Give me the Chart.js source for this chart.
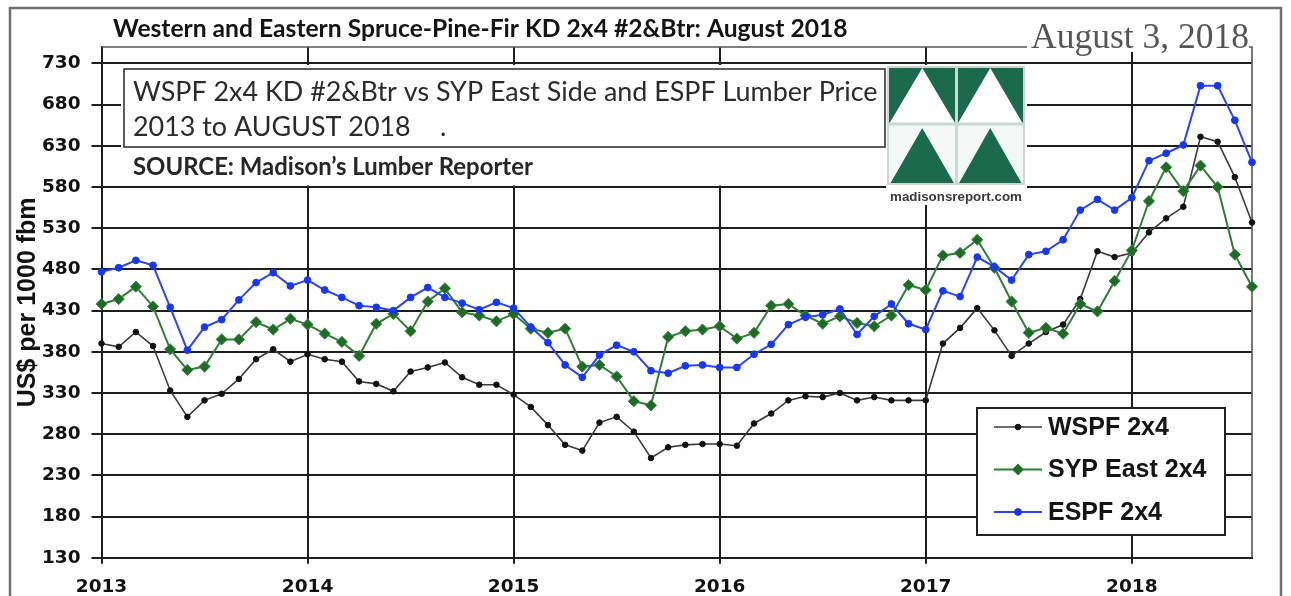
<!DOCTYPE html>
<html>
<head>
<meta charset="utf-8">
<script src="https://cdn.jsdelivr.net/npm/chart.js@4.4.1/dist/chart.umd.min.js"></script>
<style>
  html, body { margin: 0; padding: 0; background: #fff; }
  #wrap { position: relative; width: 1291px; height: 596px; overflow: hidden; }
  canvas { display: block; }
</style>
</head>
<body>
<div id="wrap"><canvas id="c" width="1291" height="596"></canvas></div>
<script>
// ---------------- DATA ----------------
const chartTitle = 'Western and Eastern Spruce-Pine-Fir KD 2x4 #2&Btr: August 2018';
const dateStamp = 'August 3, 2018';
const boxLine1 = 'WSPF 2x4 KD #2&Btr vs SYP East Side and ESPF Lumber Price';
const boxLine2 = '2013 to AUGUST 2018';
const boxLine2Dot = '.';
const sourceText = 'SOURCE: Madison’s Lumber Reporter';
const logoText = 'madisonsreport.com';
const yAxisTitle = 'US$ per 1000 fbm';

const years = [2013, 2014, 2015, 2016, 2017, 2018];
const lastYearMonths = 8; // Jan..Aug 2018
const months = [];
years.forEach((y, yi) => {
  const n = yi === years.length - 1 ? lastYearMonths : 12;
  for (let m = 1; m <= n; m++) months.push(y + '-' + String(m).padStart(2, '0'));
});

const yTicks = [130, 180, 230, 280, 330, 380, 430, 480, 530, 580, 630, 680, 730];
const yMin = 130;
const yMax = 750;

const seriesNames = ['WSPF 2x4', 'SYP East 2x4', 'ESPF 2x4'];

const wspf = [
  390, 386, 404, 387, 333, 301, 321, 329, 347, 371, 383, 368,
  377, 371, 368, 344, 341, 332, 356, 361, 367, 349, 340, 340,
  328, 313, 291, 267, 260, 294, 301, 283, 251, 264, 267, 268,
  268, 266, 293, 305, 321, 326, 325, 330, 321, 325, 321, 321,
  321, 390, 409, 433, 406, 375, 390, 404, 413, 444, 502, 495,
  500, 525, 542, 556, 641, 635, 592, 537
];
const sypEast = [
  438, 444, 459, 435, 383, 358, 362, 395, 395, 416, 407, 420,
  413, 402, 392, 375, 414, 426, 405, 441, 457, 428, 424, 417,
  426, 408, 403, 408, 362, 364, 350, 320, 315, 398, 405, 407,
  411, 396, 403, 436, 438, 424, 414, 423, 415, 411, 424, 461,
  455, 497, 500, 516, 482, 441, 403, 409, 402, 438, 429, 466,
  503, 563, 604, 575, 606, 580, 498, 459
];
const espf = [
  477, 482, 491, 485, 434, 382, 410, 419, 443, 464, 476, 460,
  467, 455, 446, 436, 434, 430, 446, 458, 446, 439, 431, 440,
  433, 410, 391, 364, 349, 376, 388, 380, 357, 354, 363, 364,
  361, 361, 377, 389, 413, 422, 425, 432, 401, 423, 438, 414,
  407, 454, 447, 495, 483, 467, 498, 502, 516, 552, 565, 552,
  567, 612, 621, 631, 703, 703, 661, 610
];

// ---------------- STYLE ----------------
const GRID = '#1e1e1e';
const styles = [
  { line: '#3a3a3a', fill: '#111111', stroke: '#111111', style: 'circle', r: 2.8, lw: 1.6, order: 2 },
  { line: '#2f7d36', fill: '#1f6a26', stroke: '#3a8a44', style: 'rectRot', r: 5.6, lw: 2, order: 1 },
  { line: '#2b45f2', fill: '#1736f5', stroke: '#1736f5', style: 'circle', r: 3.4, lw: 2, order: 0 }
];
const seriesData = [wspf, sypEast, espf];

function fitSize(ctx, text, weight, family, targetW) {
  ctx.font = weight + ' 100px ' + family;
  return 100 * targetW / ctx.measureText(text).width;
}

function drawMarker(ctx, st, x, y) {
  ctx.beginPath();
  if (st.style === 'rectRot') {
    ctx.moveTo(x - st.r, y); ctx.lineTo(x, y - st.r); ctx.lineTo(x + st.r, y); ctx.lineTo(x, y + st.r); ctx.closePath();
  } else {
    ctx.arc(x, y, st.r, 0, Math.PI * 2);
  }
  ctx.fillStyle = st.fill; ctx.fill();
  ctx.lineWidth = 1; ctx.strokeStyle = st.stroke; ctx.stroke();
}

const decorPlugin = {
  id: 'decor',
  beforeDatasetsDraw(chart) {
    const ctx = chart.ctx;
    const a = chart.chartArea;
    ctx.save();
    // outer frame
    ctx.strokeStyle = '#6f6f6f'; ctx.lineWidth = 2.5;
    ctx.strokeRect(10, 8, 1271, 640);
    // plot top & right borders
    ctx.strokeStyle = '#555'; ctx.lineWidth = 1.6;
    ctx.beginPath();
    ctx.moveTo(a.left, a.top); ctx.lineTo(a.right, a.top); ctx.lineTo(a.right, a.bottom);
    ctx.stroke();

    // main title
    let fs = fitSize(ctx, chartTitle, '700', 'Lato', 735);
    ctx.font = '700 ' + fs + 'px Lato';
    ctx.fillStyle = '#141414'; ctx.textBaseline = 'middle'; ctx.textAlign = 'left';
    ctx.fillText(chartTitle, 113, 29);

    // date stamp
    ctx.fillStyle = '#fff'; ctx.fillRect(1027, 18, 222, 34);
    fs = fitSize(ctx, dateStamp, '400', '"Liberation Serif"', 218);
    ctx.font = '400 ' + fs + 'px "Liberation Serif"';
    ctx.fillStyle = '#555'; ctx.textBaseline = 'alphabetic';
    ctx.fillText(dateStamp, 1031, 48);

    // text box
    ctx.fillStyle = '#fff'; ctx.fillRect(121, 65, 765, 120.5);
    ctx.strokeStyle = '#333'; ctx.lineWidth = 1.6;
    ctx.strokeRect(124, 69, 761, 78);
    fs = fitSize(ctx, boxLine1, '400', 'Lato', 745);
    ctx.font = '400 ' + fs + 'px Lato';
    ctx.fillStyle = '#2a2a2a'; ctx.textBaseline = 'middle';
    ctx.fillText(boxLine1, 133, 92);
    ctx.fillText(boxLine2, 133, 127);
    ctx.fillText(boxLine2Dot, 440, 127);
    fs = fitSize(ctx, sourceText, '700', 'Lato', 400);
    ctx.font = '700 ' + fs + 'px Lato';
    ctx.fillStyle = '#262626';
    ctx.fillText(sourceText, 133, 167);

    // logo
    ctx.fillStyle = '#fff'; ctx.fillRect(886, 65, 141, 140);
    const x0 = 888, x1 = 956.5, x2 = 1024, y0 = 67, y1 = 124, y2 = 184;
    const G = '#1b6a4d';
    ctx.fillStyle = G; ctx.fillRect(x0, y0, x2 - x0, y1 - y0);
    ctx.fillStyle = '#fff';
    [[x0, x1], [x1, x2]].forEach(([xa, xb]) => {
      ctx.beginPath(); ctx.moveTo(xa + 1, y1); ctx.lineTo((xa + xb) / 2, y0 + 1); ctx.lineTo(xb - 1, y1); ctx.closePath(); ctx.fill();
    });
    ctx.fillStyle = '#f3f7f5'; ctx.fillRect(x0, y1, x2 - x0, y2 - y1);
    ctx.fillStyle = G;
    [[x0, x1], [x1, x2]].forEach(([xa, xb]) => {
      ctx.beginPath(); ctx.moveTo(xa + 2, y2); ctx.lineTo((xa + xb) / 2, y1 + 4); ctx.lineTo(xb - 2, y2); ctx.closePath(); ctx.fill();
    });
    ctx.strokeStyle = '#c6dbd1'; ctx.lineWidth = 3;
    ctx.beginPath(); ctx.moveTo(x1, y0); ctx.lineTo(x1, y2); ctx.moveTo(x0, y1); ctx.lineTo(x2, y1); ctx.stroke();
    ctx.strokeStyle = '#cfd5d2'; ctx.lineWidth = 2;
    ctx.strokeRect(x0, y0, x2 - x0, y2 - y0);
    fs = fitSize(ctx, logoText, '700', '"Liberation Sans"', 132);
    ctx.font = '700 ' + fs + 'px "Liberation Sans"';
    ctx.fillStyle = '#3a3a3a'; ctx.textAlign = 'center'; ctx.textBaseline = 'middle';
    ctx.fillText(logoText, (x0 + x2) / 2, 197);
    ctx.restore();
  },
  afterDraw(chart) {
    const ctx = chart.ctx;
    ctx.save();
    const L = { x: 977, y: 408, w: 248, h: 127 };
    ctx.fillStyle = '#fff'; ctx.fillRect(L.x, L.y, L.w, L.h);
    ctx.strokeStyle = '#222'; ctx.lineWidth = 2; ctx.strokeRect(L.x, L.y, L.w, L.h);
    const rows = [427, 469.5, 512];
    chart.data.datasets.forEach((ds, i) => {
      const st = styles[i];
      const y = rows[i];
      ctx.strokeStyle = st.line; ctx.lineWidth = st.lw;
      ctx.beginPath(); ctx.moveTo(994, y); ctx.lineTo(1042, y); ctx.stroke();
      drawMarker(ctx, st, 1018, y);
      ctx.font = 'bold 25px "Liberation Sans"';
      ctx.fillStyle = '#141414'; ctx.textAlign = 'left'; ctx.textBaseline = 'middle';
      ctx.fillText(ds.label, 1048, y + 1);
    });
    ctx.restore();
  }
};

const tickFont = { family: '"DejaVu Sans"', size: 18.5, weight: 'bold' };

new Chart(document.getElementById('c'), {
  type: 'line',
  data: {
    labels: months,
    datasets: seriesData.map((d, i) => ({
      label: seriesNames[i],
      data: d,
      borderColor: styles[i].line,
      borderWidth: styles[i].lw,
      backgroundColor: styles[i].fill,
      pointBackgroundColor: styles[i].fill,
      pointBorderColor: styles[i].stroke,
      pointBorderWidth: 1,
      pointStyle: styles[i].style,
      pointRadius: styles[i].r,
      tension: 0,
      fill: false,
      clip: false,
      order: styles[i].order
    }))
  },
  options: {
    responsive: false,
    animation: false,
    devicePixelRatio: 1,
    layout: { padding: { left: 12, right: 39, top: 47, bottom: 0 } },
    plugins: { legend: { display: false }, tooltip: { enabled: false }, title: { display: false } },
    scales: {
      x: {
        type: 'category',
        offset: false,
        grid: {
          color: (c) => (c.index % 12 === 0 ? GRID : 'rgba(0,0,0,0)'),
          lineWidth: 2,
          tickLength: 6,
          drawTicks: true
        },
        border: { display: true, color: GRID, width: 2 },
        ticks: {
          autoSkip: false, maxRotation: 0, minRotation: 0,
          font: tickFont, color: '#111', padding: 12,
          callback: (v, i) => (i % 12 === 0 ? months[i].slice(0, 4) : '')
        },
        afterFit: (s) => { s.height = 596 - 557.7; }
      },
      y: {
        type: 'linear',
        min: yMin, max: yMax,
        afterBuildTicks: (s) => { s.ticks = yTicks.map(v => ({ value: v })); },
        grid: { color: GRID, lineWidth: 2, tickLength: 10 },
        border: { display: true, color: GRID, width: 2 },
        ticks: { font: tickFont, color: '#111', padding: 11 },
        title: {
          display: true, text: yAxisTitle, color: '#111',
          font: { family: '"Liberation Sans"', size: 25, weight: 'bold' },
          padding: { top: 1, bottom: 0 }
        },
        afterFit: (s) => { s.width = 101.5 - 12; }
      }
    }
  },
  plugins: [decorPlugin]
});
</script>
</body>
</html>
